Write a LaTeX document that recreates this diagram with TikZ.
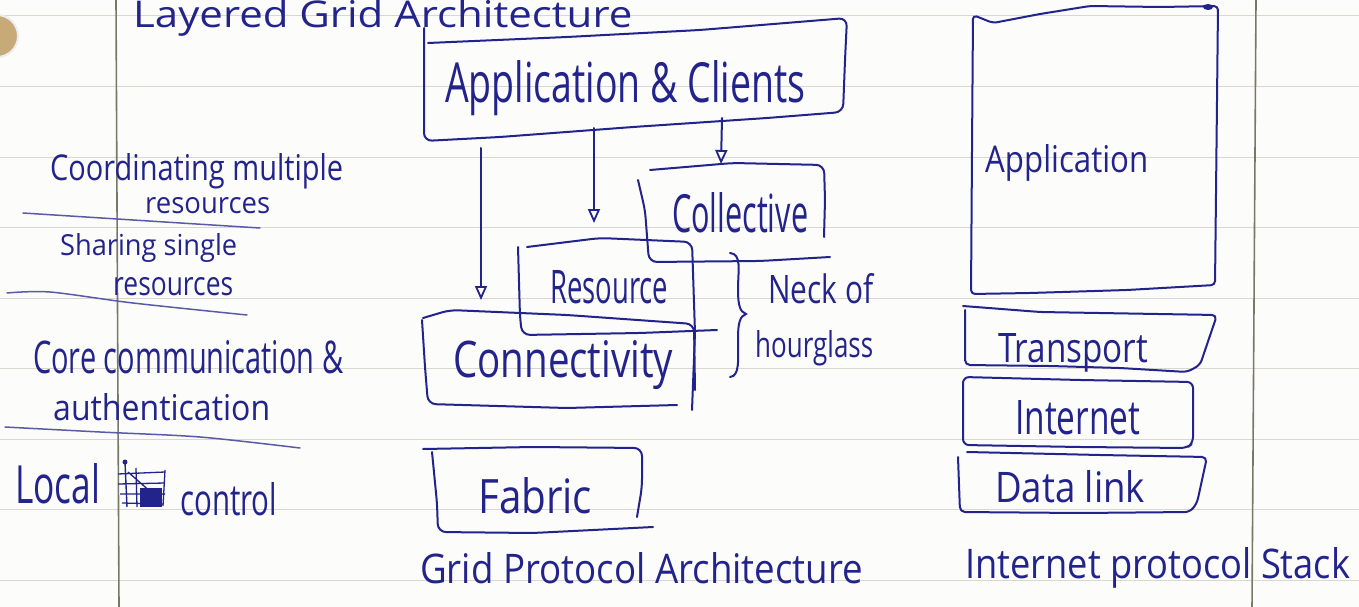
\documentclass[tikz,border=0pt]{standalone}
\usepackage{fontspec}
\setmainfont{Open Sans}
\usetikzlibrary{arrows.meta}
\definecolor{ink}{RGB}{35,35,140}
\definecolor{paper}{RGB}{252,252,250}
\definecolor{rulec}{RGB}{218,215,208}
\definecolor{marginc}{RGB}{120,120,105}
\definecolor{holec}{RGB}{200,170,120}
\newcommand{\hw}[3]{\resizebox{#1pt}{#2pt}{#3}}
\begin{document}
\begin{tikzpicture}[x=1pt,y=-1pt,
  inkline/.style={draw=ink,line width=2pt,line cap=round,line join=round,rounded corners=8pt},
  sepline/.style={draw=ink!75,line width=1.5pt,line cap=round},
  txt/.style={inner sep=0pt,anchor=base west,text=ink},
  arr/.style={draw=ink,line width=2pt,line cap=round,-{Triangle[open,length=14pt,width=12pt,line width=1.8pt]}},
  ruled/.style={draw=rulec,line width=1pt},
  marg/.style={draw=marginc,line width=1.6pt}]
\useasboundingbox (0,0) rectangle (1359,607);
\fill[paper] (0,0) rectangle (1359,607);
% paper: ruled lines, margins, punch hole
\foreach \k in {0,...,8} {\draw[ruled] (0,{16+70.5*\k}) -- (1359,{16+70.5*\k});}
\draw[marg] (116,0) -- (119,607);
\draw[marg] (1256,0) -- (1252,607);
\fill[holec] (-3,36) circle (21);
\draw[white!85!gray,line width=2pt] (-3,36) circle (21);

% ---- texts ----
\node[txt] (title) at (133,28) {\hw{499}{28}{Layered Grid Architecture}};
\node[txt] (appc) at (445,103) {\hw{360}{42}{Application \& Clients}};
\node[txt] (coll) at (672,232) {\hw{136}{40}{Collective}};
\node[txt] (res) at (550,303) {\hw{118}{33}{Resource}};
\node[txt] (conn) at (453,377) {\hw{220}{37}{Connectivity}};
\node[txt] (neck) at (768,303) {\hw{105}{30}{Neck of}};
\node[txt] (hour) at (755,357) {\hw{118}{27}{hourglass}};
\node[txt] (fab) at (478,513) {\hw{114}{36}{Fabric}};
\node[txt] (gpa) at (420,583) {\hw{443}{31}{Grid Protocol Architecture}};
\node[txt] (iapp) at (985,172) {\hw{163}{28}{Application}};
\node[txt] (trans) at (998,362) {\hw{150}{29}{Transport}};
\node[txt] (inet) at (1015,434) {\hw{125}{34}{Internet}};
\node[txt] (dlink) at (995,502) {\hw{150}{32}{Data link}};
\node[txt] (ips) at (965,578) {\hw{385}{31}{Internet protocol Stack}};
\node[txt] (coordA) at (50,180) {\hw{293}{27}{Coordinating multiple}};
\node[txt] (coordB) at (145,213) {\hw{125}{16}{resources}};
\node[txt] (shareA) at (60,255) {\hw{177}{22}{Sharing single}};
\node[txt] (shareB) at (113,295) {\hw{120}{18}{resources}};
\node[txt] (coreA) at (33,373) {\hw{310}{33}{Core communication \&}};
\node[txt] (coreB) at (53,420) {\hw{217}{27}{authentication}};
\node[txt] (local) at (15,503) {\hw{85}{40}{Local}};
\node[txt] (ctrl) at (180,515) {\hw{97}{33}{control}};

% ---- left separators ----
\draw[sepline] plot[smooth] coordinates {(23,213) (133,220) (260,228)};
\draw[sepline] plot[smooth] coordinates {(7,293) (50,292) (133,303) (247,315)};
\draw[sepline] plot[smooth] coordinates {(5,427) (100,432) (200,437) (300,448)};

% ---- crossed-out word ----
\draw[draw=ink,line width=1.4pt] (125,462) -- (127,507);
\fill[ink] (125,462) circle (2.5);
\draw[draw=ink,line width=1.3pt] (118,474) -- (165,472) (118,484) -- (165,483) (120,494) -- (165,494)
  (122,503) -- (163,504) (165,470) -- (163,506) (136,468) -- (137,507) (128,472) -- (160,500);
\fill[ink] (140,488) rectangle (162,507);

% ---- Application & Clients box ----
\draw[inkline] (428,43) -- (567,37) -- (700,30) -- (847,18) -- (845,60) -- (843,112)
  -- (767,118) -- (633,127) -- (500,137) -- (424,141) -- (424,80) -- (424,28);

% ---- Collective box ----
\draw[inkline] (650,170) -- (733,163) -- (824,165) -- (825,200) -- (824,237);
\draw[inkline] (638,180) -- (645,210) -- (649,262) -- (760,261) -- (830,257);

% ---- Resource box ----
\draw[inkline] (527,247) -- (600,238) -- (692,242) -- (695,333) -- (692,410);
\draw[inkline] (518,247) -- (520,317) -- (522,335) -- (640,333) -- (717,330);

% ---- Connectivity box ----
\draw[inkline] (423,318) -- (450,310) -- (567,315) -- (694,324) -- (695,390);
\draw[inkline] (422,320) -- (425,367) -- (428,404) -- (567,408) -- (677,405);

% ---- Fabric box ----
\draw[inkline] (423,449) -- (533,447) -- (642,448) -- (642,487) -- (637,517);
\draw[inkline] (432,452) -- (437,503) -- (438,532) -- (533,533) -- (653,527);

% ---- brace ----
\draw[draw=ink,line width=2pt,line cap=round] (730,253) .. controls (742,254) and (738,270) .. (738,290)
  .. controls (738,305) and (740,312) .. (746,314)
  .. controls (740,316) and (738,323) .. (738,338)
  .. controls (738,360) and (740,376) .. (730,377);

% ---- arrows ----
\coordinate (a1s) at (481,148); \coordinate (a1e) at (481,300);
\coordinate (a2s) at (594,128); \coordinate (a2e) at (594,223);
\coordinate (a3s) at (722,118); \coordinate (a3e) at (721,164);
\draw[arr] (a1s) -- (a1e);
\draw[arr] (a2s) -- (a2e);
\draw[arr] (a3s) -- (a3e);

% ---- Internet protocol stack ----
\draw[inkline,rounded corners=4pt] (973,15) -- (993,23) -- (1040,14) -- (1090,6) -- (1160,7) -- (1218,6)
  -- (1217,100) -- (1215,285) -- (1127,290) -- (1030,293) -- (971,294) -- (972,150) -- cycle;
\fill[ink] (1208,7) ellipse (5 and 3);

\draw[inkline,rounded corners=5pt] (963,306) -- (1040,312) -- (1217,315) -- (1200,365) -- (1187,372)
  -- (1120,368) -- (1050,366) -- (965,365) -- (965,310);

\draw[inkline,rounded corners=6pt] (963,377) -- (1080,380) -- (1193,382) -- (1193,443) -- (1187,448)
  -- (1080,447) -- (963,445) -- cycle;

\draw[inkline,rounded corners=5pt] (967,452) -- (1100,455) -- (1207,457) -- (1197,503) -- (1190,512)
  -- (1080,513) -- (960,512) -- (958,457);
\end{tikzpicture}
\end{document}
